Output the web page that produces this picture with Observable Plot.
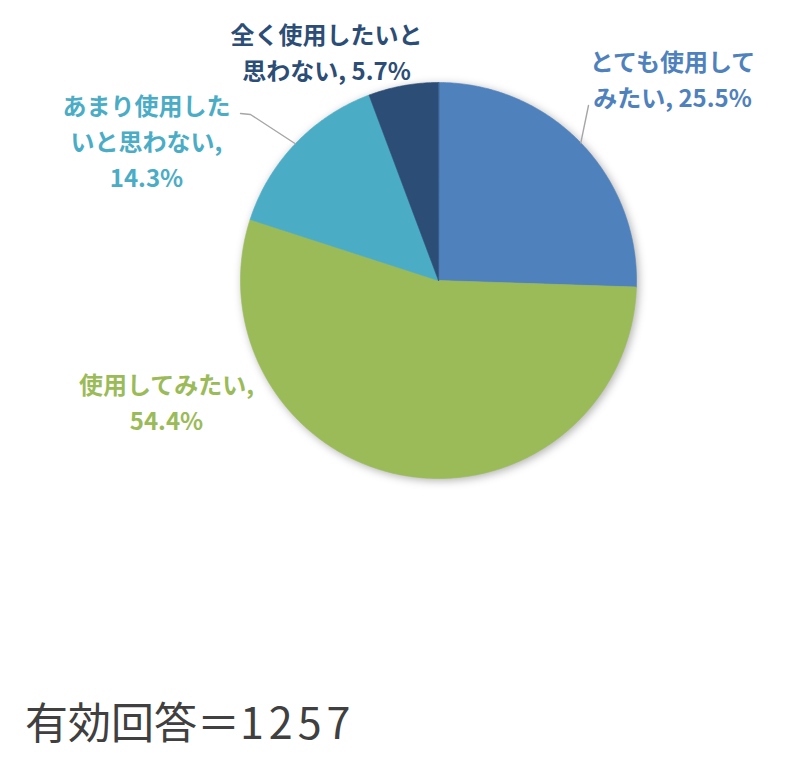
<!DOCTYPE html>
<html><head><meta charset="utf-8">
<script src="https://cdn.jsdelivr.net/npm/d3@7"></script>
<script src="https://cdn.jsdelivr.net/npm/@observablehq/plot@0.6"></script>
<style>
body{margin:0;background:#fff;}
#caption{font-family:"Noto Sans CJK JP","Noto Sans",sans-serif;font-size:43px;color:#404040;height:60px;line-height:60px;padding-left:25px;}
#caption .num{letter-spacing:5px;}
</style></head><body>
<div id="chart"></div>
<div id="caption"><span id="cap-label"></span><span class="num" id="cap-num"></span></div>
<script>
// ---- data ----
const categories = ["とても使用してみたい", "使用してみたい", "あまり使用したいと思わない", "全く使用したいと思わない"];
const values = [25.5, 54.4, 14.3, 5.7];
const labelTexts = ["とても使用して\nみたい, 25.5%", "使用してみたい,\n54.4%", "あまり使用した\nいと思わない,\n14.3%", "全く使用したいと\n思わない, 5.7%"];
const responses = 1257;
// ---- styles / layout ----
const colors = ["#4F81BD", "#9BBB59", "#4BACC6", "#2C4D75"];
const W = 797, H = 690, cx = 438, cy = 280, R = 198;
const labelOffsets = [[234, -203], [-272, 120], [-292, -141], [-112, -230]];
const leaderStarts = [[[150, -175]], null, [[-198, -167], [-188, -166]], null];

const arcs = d3.pie().sort(null).value(d => d)(values);
const slicePts = [];
arcs.forEach((a, i) => {
  slicePts.push({cat: categories[i], x: cx, y: cy});
  const n = Math.max(2, Math.ceil((a.endAngle - a.startAngle) / 0.01));
  for (let k = 0; k <= n; k++) {
    const t = a.startAngle + (a.endAngle - a.startAngle) * k / n;
    slicePts.push({cat: categories[i], x: cx + R * Math.sin(t), y: cy - R * Math.cos(t)});
  }
});
const labels = arcs.map((a, i) => ({cat: categories[i], text: labelTexts[i], x: cx + labelOffsets[i][0], y: cy + labelOffsets[i][1]}));
const leaderPts = [];
arcs.forEach((a, i) => {
  if (!leaderStarts[i]) return;
  leaderStarts[i].forEach(([dx, dy]) => leaderPts.push({cat: categories[i], x: cx + dx, y: cy + dy}));
  const m = (a.startAngle + a.endAngle) / 2;
  leaderPts.push({cat: categories[i], x: cx + R * Math.sin(m), y: cy - R * Math.cos(m)});
});

const chart = Plot.plot({
  width: W, height: H, margin: 0,
  x: {domain: [0, W], range: [0, W], axis: null},
  y: {domain: [0, H], range: [0, H], axis: null},
  color: {domain: categories, range: colors},
  marks: [
    Plot.line(slicePts, {x: "x", y: "y", z: "cat", fill: "cat", stroke: "cat", strokeWidth: 0.6, curve: "linear-closed"}),
    Plot.line(leaderPts, {x: "x", y: "y", z: "cat", stroke: "#A6A6A6", strokeWidth: 1.4}),
    Plot.text(labels, {x: "x", y: "y", text: "text", fill: "cat", fontSize: 24, fontWeight: "bold", lineHeight: 1.5, textAnchor: "middle", lineAnchor: "middle", fontFamily: "'Noto Sans CJK JP', 'Noto Sans', sans-serif"})
  ]
});
const g = chart.querySelector('g[aria-label="line"]');
if (g) g.style.filter = "drop-shadow(2px 2px 4px rgba(0,0,0,0.3))";
document.getElementById("chart").appendChild(chart);
document.getElementById("cap-label").textContent = "有効回答＝";
document.getElementById("cap-num").textContent = String(responses);
</script>
</body></html>
